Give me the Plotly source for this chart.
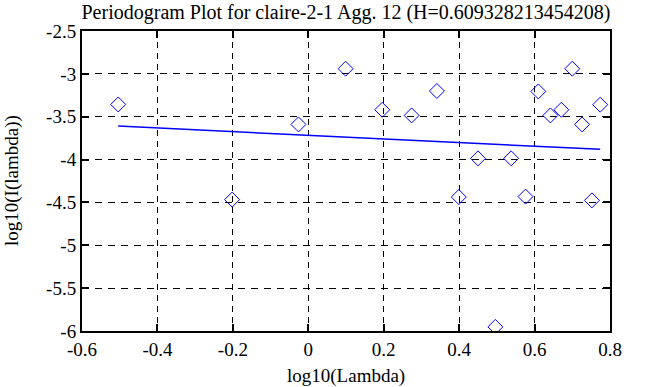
import plotly.graph_objects as go

log_lambda = [-0.504, -0.202, -0.026, 0.099, 0.196, 0.274, 0.341, 0.399, 0.450,
              0.496, 0.538, 0.576, 0.610, 0.642, 0.671, 0.700, 0.726, 0.752, 0.774]
log_I = [-3.357, -4.467, -3.590, -2.940, -3.419, -3.485, -3.200, -4.437, -3.986,
         -5.952, -3.986, -4.432, -3.205, -3.485, -3.419, -2.940, -3.590, -4.476, -3.360]
fit_x = [-0.504, 0.774]
fit_y = [-3.609, -3.881]
x_ticks = [-0.6, -0.4, -0.2, 0, 0.2, 0.4, 0.6, 0.8]
x_ticktext = ["-0.6", "-0.4", "-0.2", "0", "0.2", "0.4", "0.6", "0.8"]
y_ticks = [-6, -5.5, -5, -4.5, -4, -3.5, -3, -2.5]
y_ticktext = ["-6", "-5.5", "-5", "-4.5", "-4", "-3.5", "-3", "-2.5"]
title = "Periodogram Plot for claire-2-1 Agg. 12 (H=0.609328213454208)"
x_title = "log10(Lambda)"
y_title = "log10(I(lambda))"

FAM = "Liberation Serif, Times New Roman, serif"
tick_font = dict(family=FAM, size=19, color="black")
lab_font = dict(family=FAM, size=19, color="black")
title_font = dict(family=FAM, size=20, color="black")

W, H = 658, 387
L, R, T, B = 82, 48, 31, 56

fig = go.Figure()
fig.add_trace(go.Scatter(x=log_lambda, y=log_I, mode="markers",
                         marker=dict(symbol="diamond-open", size=11.5, color="blue",
                                     line=dict(width=1, color="blue")),
                         showlegend=False, hoverinfo="skip"))
fig.add_trace(go.Scatter(x=fit_x, y=fit_y, mode="lines",
                         line=dict(color="blue", width=1.5), showlegend=False,
                         hoverinfo="skip"))

axis_common = dict(showline=True, linecolor="black", linewidth=2, mirror="ticks",
                   ticks="inside", ticklen=7, tickwidth=2, tickcolor="black",
                   showgrid=True, gridcolor="black", gridwidth=1,
                   zeroline=False, tickfont=tick_font, automargin=False)

fig.update_xaxes(range=[-0.6, 0.8], tickvals=x_ticks, ticktext=x_ticktext,
                 griddash="6px,5px", **axis_common)
fig.update_yaxes(range=[-6, -2.5], tickvals=y_ticks, ticktext=y_ticktext,
                 griddash="7px,6px", **axis_common)

fig.update_layout(width=W, height=H, margin=dict(l=L, r=R, t=T, b=B, autoexpand=False),
                  paper_bgcolor="white", plot_bgcolor="white",
                  title=dict(text=title, x=(L + (W - R)) / 2 / W, xanchor="center",
                             y=1 - 12 / H, yanchor="middle", font=title_font),
                  annotations=[
                      dict(text=x_title, xref="paper", yref="paper",
                           x=0.5, y=(H - 376 - B) / (H - T - B),
                           xanchor="center", yanchor="middle", showarrow=False,
                           font=lab_font),
                      dict(text=y_title, xref="paper", yref="paper",
                           x=(12 - L) / (W - L - R), y=0.5, textangle=-90,
                           xanchor="center", yanchor="middle", showarrow=False,
                           font=lab_font),
                  ])

fig.write_html("out.html", config={"displayModeBar": False},
               post_script="document.body.style.margin='0';document.body.style.padding='0';")
